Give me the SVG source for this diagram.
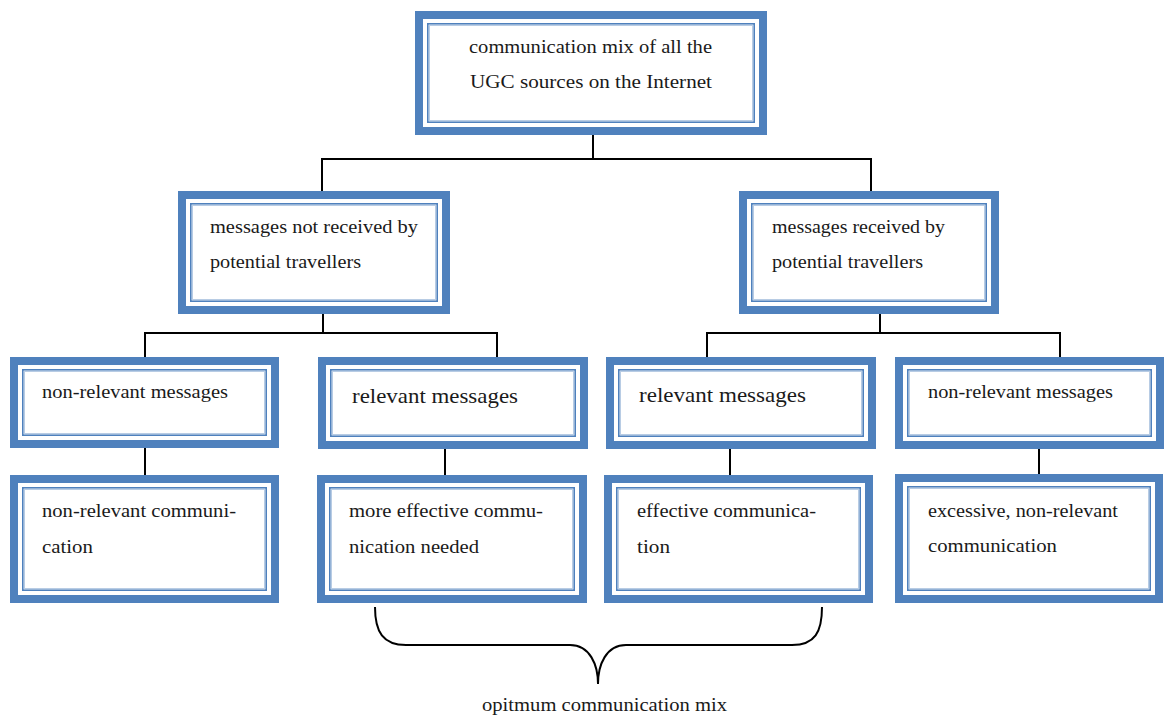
<svg xmlns="http://www.w3.org/2000/svg" width="1164" height="715" viewBox="0 0 1164 715">
<style>
.thick{fill:#fff;stroke:#4f81bd;stroke-width:8}
.thin{fill:none;stroke:#4f81bd;stroke-width:1.6}
.pale{fill:none;stroke:#b8cce4;stroke-width:1}
.t{font-family:"Liberation Serif","Times New Roman",serif;font-size:19px;fill:#1a1a1a}
.big{font-size:21px}
.c{fill:none;stroke:#000;stroke-width:2}
</style>
<rect width="1164" height="715" fill="#fff"/>
<g id="connectors">
<path class="c" d="M593,135V159M322,159H871M322,158V192M871,158V192"/>
<path class="c" d="M323,314V333M145,333H497M145,332V358M497,332V358"/>
<path class="c" d="M880,314V333M707,333H1060M707,332V358M1060,332V358"/>
<path class="c" d="M145,448V475M445,449V476M730,449V475M1039,449V475"/>
<path class="c" d="M375,607C375,632 383,645 406,645L570,645C590,645 598,665 598,684C598,665 606,645 626,645L792,645C815,645 822,632 822,607"/>
</g>
<g id="n-top">
<rect class="thick" x="419" y="15" width="344" height="116"/>
<rect class="thin" x="427.8" y="23.8" width="326.4" height="98.4"/>
<rect class="pale" x="429.5" y="25.5" width="323" height="95"/>
<text class="t" x="469" y="53" textLength="243" lengthAdjust="spacingAndGlyphs">communication mix of all the</text>
<text class="t" x="470" y="88" textLength="242" lengthAdjust="spacingAndGlyphs">UGC sources on the Internet</text>
</g>
<g id="n-notreceived">
<rect class="thick" x="182" y="195" width="264" height="115"/>
<rect class="thin" x="190.8" y="203.8" width="246.4" height="97.4"/>
<rect class="pale" x="192.5" y="205.5" width="243" height="94"/>
<text class="t" x="210" y="233" textLength="208" lengthAdjust="spacingAndGlyphs">messages not received by</text>
<text class="t" x="210" y="268" textLength="151" lengthAdjust="spacingAndGlyphs">potential travellers</text>
</g>
<g id="n-received">
<rect class="thick" x="743" y="195" width="252" height="115"/>
<rect class="thin" x="751.8" y="203.8" width="234.4" height="97.4"/>
<rect class="pale" x="753.5" y="205.5" width="231" height="94"/>
<text class="t" x="772" y="233" textLength="173" lengthAdjust="spacingAndGlyphs">messages received by</text>
<text class="t" x="772" y="268" textLength="151" lengthAdjust="spacingAndGlyphs">potential travellers</text>
</g>
<g id="n-r3b1">
<rect class="thick" x="14" y="361" width="261" height="83"/>
<rect class="thin" x="22.8" y="369.8" width="243.4" height="65.4"/>
<rect class="pale" x="24.5" y="371.5" width="240" height="62"/>
<text class="t" x="42" y="398" textLength="186" lengthAdjust="spacingAndGlyphs">non-relevant messages</text>
</g>
<g id="n-r3b2">
<rect class="thick" x="322" y="361" width="262" height="84"/>
<rect class="thin" x="330.8" y="369.8" width="244.4" height="66.4"/>
<rect class="pale" x="332.5" y="371.5" width="241" height="63"/>
<text class="t big" x="352" y="403" textLength="166" lengthAdjust="spacingAndGlyphs">relevant messages</text>
</g>
<g id="n-r3b3">
<rect class="thick" x="610" y="361" width="262" height="84"/>
<rect class="thin" x="618.8" y="369.8" width="244.4" height="66.4"/>
<rect class="pale" x="620.5" y="371.5" width="241" height="63"/>
<text class="t big" x="639" y="402" textLength="167" lengthAdjust="spacingAndGlyphs">relevant messages</text>
</g>
<g id="n-r3b4">
<rect class="thick" x="899" y="361" width="261" height="84"/>
<rect class="thin" x="907.8" y="369.8" width="243.4" height="66.4"/>
<rect class="pale" x="909.5" y="371.5" width="240" height="63"/>
<text class="t" x="928" y="398" textLength="185" lengthAdjust="spacingAndGlyphs">non-relevant messages</text>
</g>
<g id="n-r4b1">
<rect class="thick" x="14" y="479" width="261" height="120"/>
<rect class="thin" x="22.8" y="487.8" width="243.4" height="102.4"/>
<rect class="pale" x="24.5" y="489.5" width="240" height="99"/>
<text class="t" x="42" y="517" textLength="194" lengthAdjust="spacingAndGlyphs">non-relevant communi-</text>
<text class="t" x="42" y="553" textLength="51" lengthAdjust="spacingAndGlyphs">cation</text>
</g>
<g id="n-r4b2">
<rect class="thick" x="321" y="479" width="262" height="120"/>
<rect class="thin" x="329.8" y="487.8" width="244.4" height="102.4"/>
<rect class="pale" x="331.5" y="489.5" width="241" height="99"/>
<text class="t" x="349" y="517" textLength="194" lengthAdjust="spacingAndGlyphs">more effective commu-</text>
<text class="t" x="349" y="553" textLength="130" lengthAdjust="spacingAndGlyphs">nication needed</text>
</g>
<g id="n-r4b3">
<rect class="thick" x="608" y="479" width="261" height="120"/>
<rect class="thin" x="616.8" y="487.8" width="243.4" height="102.4"/>
<rect class="pale" x="618.5" y="489.5" width="240" height="99"/>
<text class="t" x="637" y="517" textLength="179" lengthAdjust="spacingAndGlyphs">effective communica-</text>
<text class="t" x="637" y="553" textLength="33" lengthAdjust="spacingAndGlyphs">tion</text>
</g>
<g id="n-r4b4">
<rect class="thick" x="899" y="478" width="260" height="121"/>
<rect class="thin" x="907.8" y="486.8" width="242.4" height="103.4"/>
<rect class="pale" x="909.5" y="488.5" width="239" height="100"/>
<text class="t" x="928" y="517" textLength="190" lengthAdjust="spacingAndGlyphs">excessive, non-relevant</text>
<text class="t" x="928" y="552" textLength="129" lengthAdjust="spacingAndGlyphs">communication</text>
</g>
<g id="label-optimum">
<text class="t" x="482" y="711" textLength="245" lengthAdjust="spacingAndGlyphs">opitmum communication mix</text>
</g>
</svg>
